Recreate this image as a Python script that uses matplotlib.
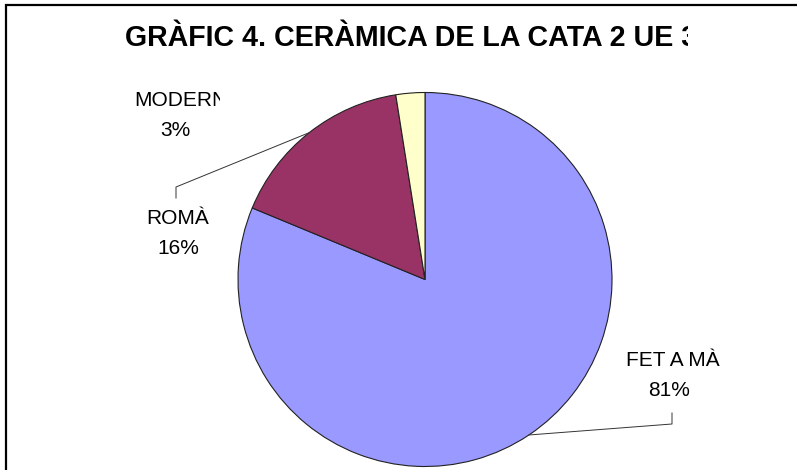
import numpy as np
import matplotlib
matplotlib.use('Agg')
import matplotlib.pyplot as plt
from matplotlib.transforms import Bbox, TransformedBbox

plt.rcParams['font.family'] = ['Liberation Sans', 'DejaVu Sans']

# data
categories = ['FET A MÀ', 'ROMÀ', 'MODERN']
counts = [65, 13, 2]
colors = ['#9999FF', '#993366', '#FFFFCC']
title = 'GRÀFIC 4. CERÀMICA DE LA CATA 2 UE 3'

W, H = 797, 470
fig = plt.figure(figsize=(W / 100, H / 100), dpi=100)
ax = fig.add_axes([0, 0, 1, 1])

def py(y):
    return H - y

cx, cy, r = 425, py(279.5), 187
wedges, _ = ax.pie(counts, colors=colors, startangle=90, counterclock=False,
                   center=(cx, cy), radius=r, frame=True,
                   wedgeprops=dict(edgecolor='#222222', linewidth=0.8))
ax.set_xlim(0, W)
ax.set_ylim(0, H)
ax.set_aspect('auto')
ax.axis('off')

# Excel rounds half up
pcts = [int(np.floor(c * 100 / sum(counts) + 0.5)) for c in counts]

fs = 15

# label positions (pixel coords) and leader line elbows
labels = {
    0: dict(xy=(673, 361), pct=(669, 391), elbow=[(672, 424), (672, 413)], clip=W),
    1: dict(xy=(178, 218), pct=(178, 249), elbow=[(176, 187), (176, 198)], clip=W),
    2: dict(xy=(181, 101), pct=(175, 130), elbow=None, clip=220),
}

for i, w in enumerate(wedges):
    info = labels[i]
    t = ax.text(info['xy'][0], py(info['xy'][1]), categories[i], ha='center', va='center',
                fontsize=fs, color='black')
    t.set_clip_box(TransformedBbox(Bbox([[0, 0], [info['clip'], H]]), ax.transData))
    t.set_clip_on(True)
    ax.text(info['pct'][0], py(info['pct'][1]), f'{pcts[i]}%', ha='center', va='center',
            fontsize=fs, color='black')
    if info['elbow'] is not None:
        mid = np.deg2rad((w.theta1 + w.theta2) / 2)
        ex, ey = cx + r * np.cos(mid), cy + r * np.sin(mid)
        xs = [ex] + [p[0] for p in info['elbow']]
        ys = [ey] + [py(p[1]) for p in info['elbow']]
        ax.plot(xs, ys, color='#333333', linewidth=0.7)

tt = ax.text(125, py(38), title, ha='left', va='center', fontsize=20.6,
             fontweight='bold', color='black')
tt.set_clip_box(TransformedBbox(Bbox([[0, 0], [688, H]]), ax.transData))
tt.set_clip_on(True)

# chart border (top and left visible)
ax.plot([6, 6, W], [0, py(5), py(5)], color='black', linewidth=1.6,
        solid_joinstyle='miter', clip_on=False)

fig.savefig('out.png', dpi=100, facecolor='white')
